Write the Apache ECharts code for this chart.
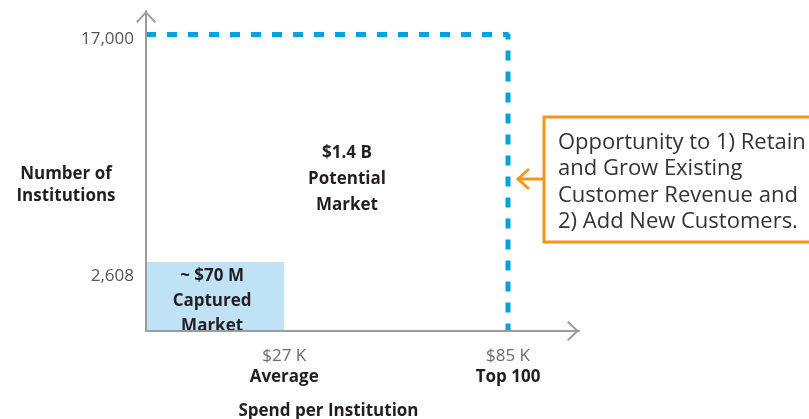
<!DOCTYPE html>
<html>
<head>
<meta charset="utf-8">
<script src="https://cdn.jsdelivr.net/npm/echarts@6/dist/echarts.min.js"></script>
<style>
  html, body { margin: 0; padding: 0; background: #fff; }
  #chart { width: 809px; height: 419px; }
</style>
</head>
<body>
<div id="chart"></div>
<script>
// spend per institution ($K)
const spendValues = [27, 85]
const spendLabels = ['$27 K', '$85 K']
const spendNames = ['Average', 'Top 100']

// number of institutions
const institutionValues = [2608, 17000]
const institutionLabels = ['2,608', '17,000']

const capturedText = ['~ $70 M', 'Captured', 'Market']
const potentialText = ['$1.4 B', 'Potential', 'Market']
const calloutText = ['Opportunity to 1) Retain', 'and Grow Existing', 'Customer Revenue and', '2) Add New Customers.']
const yAxisName = ['Number of', 'Institutions']

// schematic (log) axis extents so the marks sit where the sketch has them
const X_MIN = 13.3
const X_MAX = 122.3
const Y_MIN = 1477
const Y_MAX = 20630

const FONT = '"Open Sans", sans-serif'
const AXIS_GRAY = '#9b9b9b'
const DASH_BLUE = '#00a3e0'
const ORANGE = '#f7941d'
const TEXT_DARK = '#231f20'
const ARROW = 'path://M0,10.6 L10,0 L20,10.6 L18.6,12 L10,2.8 L1.4,12 Z'

function pick(values, labels, v) {
  let best = 0
  values.forEach((x, i) => {
    if (Math.abs(x - v) < Math.abs(values[best] - v)) best = i
  })
  return labels[best]
}

const chart = echarts.init(document.getElementById('chart'))

chart.setOption({
  animation: false,
  backgroundColor: '#fff',
  grid: { left: 146, right: 230, top: 11, bottom: 88, containLabel: false, outerBoundsMode: 'none' },
  xAxis: {
    type: 'log',
    min: X_MIN,
    max: X_MAX,
    z: 10,
    axisLine: {
      show: true,
      lineStyle: { color: AXIS_GRAY, width: 2 },
      symbol: ['none', ARROW],
      symbolSize: [20, 12],
      symbolOffset: [0, -6],
    },
    axisTick: { show: false },
    minorTick: { show: false },
    splitLine: { show: false },
    axisLabel: {
      customValues: spendValues,
      margin: 15,
      formatter: v => '{v|' + pick(spendValues, spendLabels, v) + '}\n{n|' + pick(spendValues, spendNames, v) + '}',
      rich: {
        v: { color: '#6b6b6b', fontSize: 17, lineHeight: 21, fontFamily: FONT },
        n: { color: TEXT_DARK, fontSize: 17, lineHeight: 21, fontWeight: 'bold', fontFamily: FONT },
      },
    },
    name: 'Spend per Institution',
    nameLocation: 'middle',
    nameGap: 72,
    nameMoveOverlap: false,
    nameTextStyle: {
      color: TEXT_DARK,
      fontSize: 17,
      fontWeight: 'bold',
      fontFamily: FONT,
      padding: [0, 68, 0, 0],
    },
  },
  yAxis: {
    type: 'log',
    min: Y_MIN,
    max: Y_MAX,
    z: 10,
    axisLine: {
      show: true,
      lineStyle: { color: AXIS_GRAY, width: 2 },
      symbol: ['none', ARROW],
      symbolSize: [20, 12],
      symbolOffset: [0, -6],
    },
    axisTick: { show: false },
    minorTick: { show: false },
    splitLine: { show: false },
    axisLabel: {
      customValues: institutionValues,
      margin: 12,
      formatter: v => (v > 10000 ? '{a|' : '{b|') + pick(institutionValues, institutionLabels, v) + '}',
      rich: {
        a: { color: '#555', fontSize: 17, fontFamily: FONT, padding: [9, 0, 0, 0] },
        b: { color: '#555', fontSize: 17, fontFamily: FONT, padding: [29, 0, 0, 0] },
      },
    },
  },
  graphic: [
    {
      type: 'text',
      x: 66,
      y: 185,
      style: {
        text: yAxisName.join('\n'),
        align: 'center',
        verticalAlign: 'middle',
        font: 'bold 17px ' + FONT,
        lineHeight: 22,
        fill: TEXT_DARK,
      },
    },
    {
      type: 'text',
      x: 347,
      y: 179,
      style: {
        text: potentialText.join('\n'),
        align: 'center',
        verticalAlign: 'middle',
        font: 'bold 17px ' + FONT,
        lineHeight: 26,
        fill: TEXT_DARK,
      },
    },
    {
      type: 'group',
      children: [
        {
          type: 'rect',
          shape: { x: 544, y: 117, width: 300, height: 125 },
          style: { fill: '#fff', stroke: ORANGE, lineWidth: 3 },
        },
        {
          type: 'text',
          x: 558,
          y: 129,
          style: {
            text: calloutText.join('\n'),
            font: '22px ' + FONT,
            lineHeight: 26.5,
            fill: '#333',
          },
        },
        {
          type: 'polyline',
          shape: { points: [[529, 169], [518, 179], [529, 189]] },
          style: { stroke: ORANGE, lineWidth: 3, fill: null },
        },
        {
          type: 'line',
          shape: { x1: 518, y1: 179, x2: 544, y2: 179 },
          style: { stroke: ORANGE, lineWidth: 3 },
        },
      ],
    },
  ],
  series: [
    {
      name: 'Captured Market',
      type: 'custom',
      data: [[spendValues[0], institutionValues[0]]],
      z: 3,
      renderItem: (params, api) => {
        const p0 = api.coord([X_MIN, Y_MIN])
        const p1 = api.coord([api.value(0), api.value(1)])
        return {
          type: 'rect',
          shape: { x: p0[0], y: p1[1], width: p1[0] - p0[0], height: p0[1] - p1[1] },
          style: { fill: '#bfe2f6' },
          textContent: {
            style: {
              text: capturedText.join('\n'),
              font: 'bold 17px ' + FONT,
              lineHeight: 25,
              align: 'center',
              fill: TEXT_DARK,
            },
          },
          textConfig: { position: 'inside', offset: [-3, 5] },
        }
      },
    },
    {
      name: 'Potential Market',
      type: 'line',
      data: [[X_MIN, institutionValues[1]], [spendValues[1], institutionValues[1]], [spendValues[1], Y_MIN]],
      symbol: 'none',
      z: 4,
      lineStyle: { color: DASH_BLUE, width: 5, type: [10, 11] },
    },
  ],
})
</script>
</body>
</html>
